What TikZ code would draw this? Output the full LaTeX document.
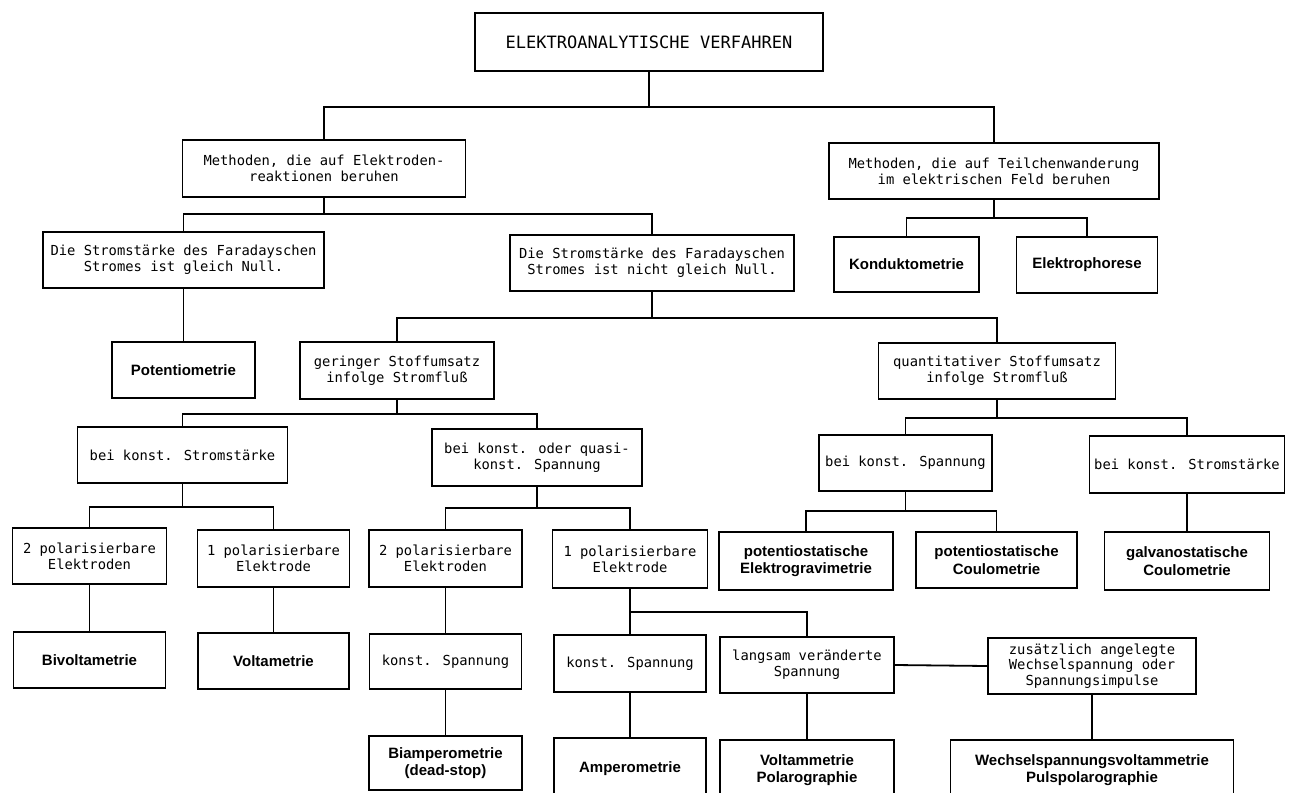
\documentclass[tikz,border=0pt]{standalone}
\usepackage{fontspec}
\setmainfont{DejaVu Sans Mono}
\newfontfamily\leaffont{Liberation Sans}
\begin{document}
\begin{tikzpicture}[x=1pt,y=-1pt,line width=1.8pt,
  box/.style={draw,rectangle,inner sep=0pt,align=center,font=\fontsize{13.8}{15.8}\selectfont},
  leaf/.style={box,font=\leaffont\bfseries\fontsize{15}{17.5}\selectfont},
  bx/.style 2 args={minimum width=#1pt,minimum height=#2pt}]
\useasboundingbox (0,0) rectangle (1295,792);
\fill[white] (0,0) rectangle (1295,792);
\clip (0,0) rectangle (1295,792);

% level 0
\node[box,bx={348}{58},font=\fontsize{17}{19}\selectfont] (top) at (649,42) {ELEKTROANALYTISCHE VERFAHREN};
% level 1
\node[box,bx={283}{57}] (elek) at (324,168.5) {Methoden, die auf Elektroden-\\reaktionen beruhen};
\node[box,bx={330}{56}] (teil) at (994,171) {Methoden, die auf Teilchenwanderung\\im elektrischen Feld beruhen};
% level 2
\node[box,bx={281}{56}] (null) at (183.5,260) {Die Stromstärke des Faradayschen\\Stromes ist gleich Null.};
\node[box,bx={284}{56}] (nicht) at (652,263) {Die Stromstärke des Faradayschen\\Stromes ist nicht gleich Null.};
\node[leaf,bx={145}{55}] (kond) at (906.5,264.5) {Konduktometrie};
\node[leaf,bx={141}{56}] (phor) at (1087,265) {Elektrophorese};
% level 3
\node[leaf,bx={143}{56}] (pot) at (183.5,370) {Potentiometrie};
\node[box,bx={194}{57}] (ger) at (397,370.5) {geringer Stoffumsatz\\infolge Stromfluß};
\node[box,bx={237}{56}] (quant) at (997,371) {quantitativer Stoffumsatz\\infolge Stromfluß};
% level 4
\node[box,bx={210}{56}] (strl) at (182.5,455) {bei konst. Stromstärke};
\node[box,bx={210}{57}] (quasi) at (537,457.5) {bei konst. oder quasi-\\konst. Spannung};
\node[box,bx={173}{56}] (span) at (905.5,463) {bei konst. Spannung};
\node[box,bx={195}{57}] (strr) at (1187,464.5) {bei konst. Stromstärke};
% level 5
\node[box,bx={154}{56}] (p2l) at (89.5,556) {2 polarisierbare\\Elektroden};
\node[box,bx={152}{57}] (p1l) at (273.5,558.5) {1 polarisierbare\\Elektrode};
\node[box,bx={153}{57}] (p2m) at (445.5,558.5) {2 polarisierbare\\Elektroden};
\node[box,bx={155}{58}] (p1r) at (630,559) {1 polarisierbare\\Elektrode};
\node[leaf,bx={174}{58}] (grav) at (806,561) {potentiostatische\\Elektrogravimetrie};
\node[leaf,bx={161}{56}] (coul) at (996.5,560) {potentiostatische\\Coulometrie};
\node[leaf,bx={165}{58}] (galv) at (1187,561) {galvanostatische\\Coulometrie};
% level 6
\node[leaf,bx={152}{56}] (biv) at (89.5,660) {Bivoltametrie};
\node[leaf,bx={151}{56}] (volt) at (273.5,661) {Voltametrie};
\node[box,bx={152}{55}] (ksm) at (445.5,661.5) {konst. Spannung};
\node[box,bx={152}{57}] (ksr) at (630,663.5) {konst. Spannung};
\node[box,bx={174}{56}] (lang) at (807,665) {langsam veränderte\\Spannung};
\node[box,bx={208}{56}] (zus) at (1092,666) {zusätzlich angelegte\\Wechselspannung oder\\Spannungsimpulse};
% level 7
\node[leaf,bx={153}{54}] (biamp) at (445.5,763) {Biamperometrie\\(dead-stop)};
\node[leaf,bx={152}{62}] (amp) at (630,769) {Amperometrie};
\node[leaf,bx={174}{60}] (vpol) at (807,770) {Voltammetrie\\Polarographie};
\node[leaf,bx={283}{60}] (wech) at (1092,770) {Wechselspannungsvoltammetrie\\Pulspolarographie};

% connectors
\draw (top.south) -- ++(0,35) -| (elek.north);
\draw (top.south) -- ++(0,35) -| (teil.north);
\draw (elek.south) -- ++(0,16) -| (null.north);
\draw (elek.south) -- ++(0,16) -| (nicht.north);
\draw (teil.south) -- ++(0,18) -| (kond.north);
\draw (teil.south) -- ++(0,18) -| (phor.north);
\draw (null.south) -- (pot.north);
\draw (nicht.south) -- ++(0,26) -| (ger.north);
\draw (nicht.south) -- ++(0,26) -| (quant.north);
\draw (ger.south) -- ++(0,14) -| (strl.north);
\draw (ger.south) -- ++(0,14) -| (quasi.north);
\draw (quant.south) -- ++(0,18) -| (span.north);
\draw (quant.south) -- ++(0,18) -| (strr.north);
\draw (strl.south) -- ++(0,23) -| (p2l.north);
\draw (strl.south) -- ++(0,23) -| (p1l.north);
\draw (quasi.south) -- ++(0,21) -| (p2m.north);
\draw (quasi.south) -- ++(0,21) -| (p1r.north);
\draw (span.south) -- ++(0,19) -| (grav.north);
\draw (span.south) -- ++(0,19) -| (coul.north);
\draw (strr.south) -- (galv.north);
\draw (p2l.south) -- (biv.north);
\draw (p1l.south) -- (volt.north);
\draw (p2m.south) -- (ksm.north);
\draw (ksm.south) -- (biamp.north);
\draw (p1r.south) -- (ksr.north);
\draw (p1r.south) -- ++(0,23) -| (lang.north);
\draw (ksr.south) -- (amp.north);
\draw (lang.south) -- (vpol.north);
\draw (lang.east) -- (zus.west);
\draw (zus.south) -- (wech.north);
\end{tikzpicture}
\end{document}
